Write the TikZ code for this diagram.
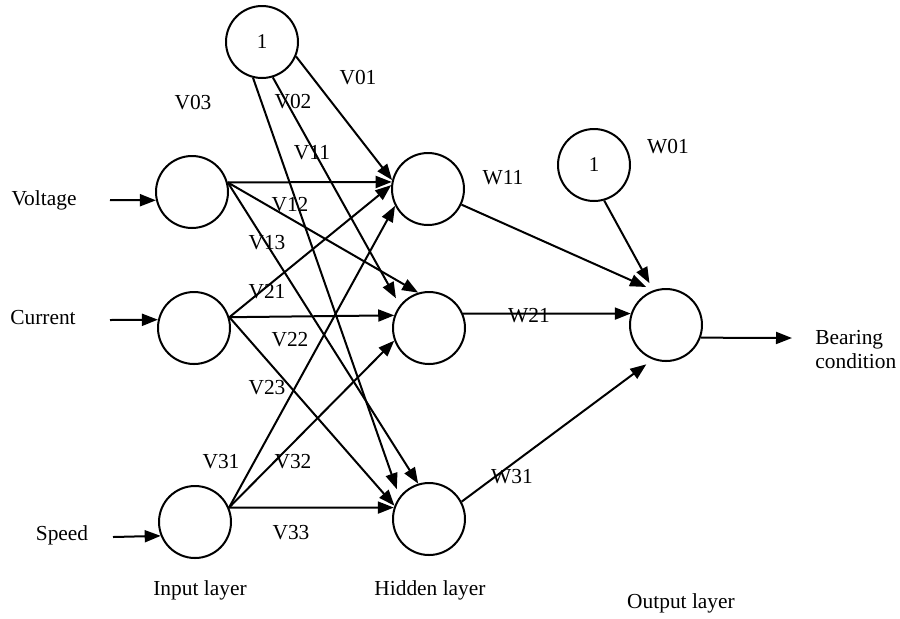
\documentclass[tikz,border=0pt]{standalone}
\usepackage{fontspec}
\setmainfont{Liberation Serif}
\usetikzlibrary{arrows.meta}
\begin{document}
\begin{tikzpicture}[x=0.5pt,y=-0.5pt,
 neuron/.style={circle,draw,line width=1pt,minimum size=36pt,inner sep=0pt,font=\fontsize{10.5}{12}\selectfont},
 lbl/.style={inner sep=0pt,font=\fontsize{10.7}{12}\selectfont},
 conn/.style={line width=1pt,-{Triangle[length=8pt,width=6pt]}},
 gap/.style={shorten >=4pt},
]
\useasboundingbox (0,0) rectangle (900,618);
% neurons
\node[neuron] (b1) at (262,42) {1};
\node[neuron] (v) at (192,192) {};
\node[neuron] (c) at (194,328) {};
\node[neuron] (s) at (195,522) {};
\node[neuron] (h1) at (428,189) {};
\node[neuron] (h2) at (429,328) {};
\node[neuron] (h3) at (429,519) {};
\node[neuron] (b2) at (594,165) {1};
\node[neuron] (o) at (666,325) {};
% free ends
\coordinate (vin) at (110,200);
\coordinate (cin) at (110,320);
\coordinate (sin) at (113,537);
\coordinate (bc) at (792,338);
% inputs
\draw[conn] (vin) -- (v.193);
\draw[conn] (cin) -- (c.167);
\draw[conn] (sin) -- (s.202);
% input -> hidden
\draw[conn] (v.15) -- (h1.169);
\draw[conn] (v.15) -- (h2.107);
\draw[conn] (v.15) -- (h3.107);
\draw[conn] (c.17) -- (h1.174);
\draw[conn] (c.17) -- (h2.160);
\draw[conn] (c.17) -- (h3.159);
\draw[conn] (s.23) -- (h1.207);
\draw[conn] (s.23) -- (h2.200);
\draw[conn] (s.23) -- (h3.162);
% bias -> hidden
\draw[conn] (b1.337) -- (h1.166);
\draw[conn,gap] (b1.287) -- (h2.142);
\draw[conn,gap] (b1.256) -- (h3.143);
% hidden -> output
\draw[conn,gap] (h1.335) -- (o.110);
\draw[conn,gap] (b2.286) -- (o.110);
\draw[conn] (h2.23) -- (o.162);
\draw[conn,gap] (h3.28) -- (o.249);
\draw[conn] (o.340) -- (bc);
% labels
\node[lbl] (lv) at (44,200) {Voltage};
\node[lbl] (lc) at (43,318) {Current};
\node[lbl] (ls) at (62,535) {Speed};
\node[lbl] (l01) at (358,78) {V01};
\node[lbl] (l03) at (193,103) {V03};
\node[lbl] (l02) at (293,102) {V02};
\node[lbl] (l11) at (312,153) {V11};
\node[lbl] (l12) at (290,205) {V12};
\node[lbl] (l13) at (267,243) {V13};
\node[lbl] (l21) at (267,292) {V21};
\node[lbl] (l22) at (290,340) {V22};
\node[lbl] (l23) at (267,388) {V23};
\node[lbl] (l31) at (221,462) {V31};
\node[lbl] (l32) at (293,462) {V32};
\node[lbl] (l33) at (291,533) {V33};
\node[lbl] (w11) at (503,178) {W11};
\node[lbl] (w01) at (668,147) {W01};
\node[lbl] (w21) at (529,316) {W21};
\node[lbl] (w31) at (512,477) {W31};
\node[lbl,anchor=west,align=left] (lb) at (815,350) {Bearing\\condition};
\node[lbl] (li) at (200,590) {Input layer};
\node[lbl] (lh) at (430,590) {Hidden layer};
\node[lbl] (lo) at (681,603) {Output layer};
\end{tikzpicture}
\end{document}
